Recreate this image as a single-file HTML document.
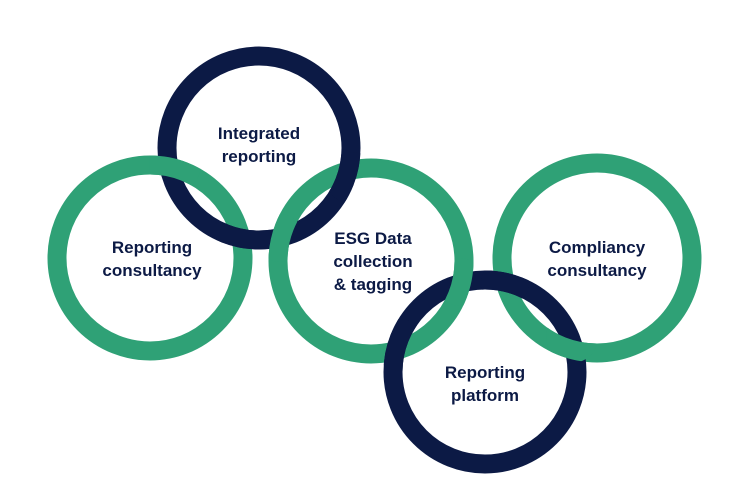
<!DOCTYPE html>
<html><head><meta charset="utf-8"><style>
html,body{margin:0;padding:0;background:#fff;width:750px;height:500px;overflow:hidden}
text{font-family:"Liberation Sans",Arial,sans-serif;font-weight:bold;font-size:17px;fill:#0c1a45;text-anchor:middle}
</style></head><body>
<svg width="750" height="500" viewBox="0 0 750 500" xmlns="http://www.w3.org/2000/svg">
<defs>
<clipPath id="c1"><circle cx="175" cy="165" r="26"/></clipPath>
<clipPath id="c2"><circle cx="245" cy="238" r="26"/></clipPath>
<clipPath id="c3"><circle cx="352" cy="178" r="26"/></clipPath>
<clipPath id="c4"><circle cx="280" cy="238" r="24"/></clipPath>
<clipPath id="c5"><circle cx="460" cy="282" r="24"/></clipPath>
<clipPath id="c6"><circle cx="400" cy="345" r="26"/></clipPath>
<clipPath id="c7"><circle cx="505" cy="283" r="24"/></clipPath>
<clipPath id="c8"><circle cx="572" cy="337" r="26"/></clipPath>
</defs>
<g fill="none" stroke-width="19">
<circle cx="150" cy="258" r="93" stroke="#2fa176"/>
<circle cx="371" cy="261" r="93" stroke="#2fa176"/>
<circle cx="597" cy="258" r="95" stroke="#2fa176"/>
<circle cx="259" cy="148" r="92" stroke="#0c1a45"/>
<circle cx="485" cy="372" r="92" stroke="#0c1a45"/>
<circle cx="150" cy="258" r="93" stroke="#2fa176" clip-path="url(#c1)"/>
<circle cx="259" cy="148" r="92" stroke="#0c1a45" clip-path="url(#c2)"/>
<circle cx="259" cy="148" r="92" stroke="#0c1a45" clip-path="url(#c3)"/>
<circle cx="371" cy="261" r="93" stroke="#2fa176" clip-path="url(#c4)"/>
<circle cx="371" cy="261" r="93" stroke="#2fa176" clip-path="url(#c5)"/>
<circle cx="485" cy="372" r="92" stroke="#0c1a45" clip-path="url(#c6)"/>
<circle cx="485" cy="372" r="92" stroke="#0c1a45" clip-path="url(#c7)"/>
<circle cx="597" cy="258" r="95" stroke="#2fa176" clip-path="url(#c8)"/>
</g>
<text x="259" y="139">Integrated</text>
<text x="259" y="162">reporting</text>
<text x="152" y="253">Reporting</text>
<text x="152" y="276">consultancy</text>
<text x="373" y="244">ESG Data</text>
<text x="373" y="267">collection</text>
<text x="373" y="290">&amp; tagging</text>
<text x="597" y="253">Compliancy</text>
<text x="597" y="276">consultancy</text>
<text x="485" y="378">Reporting</text>
<text x="485" y="401">platform</text>
</svg>
</body></html>
